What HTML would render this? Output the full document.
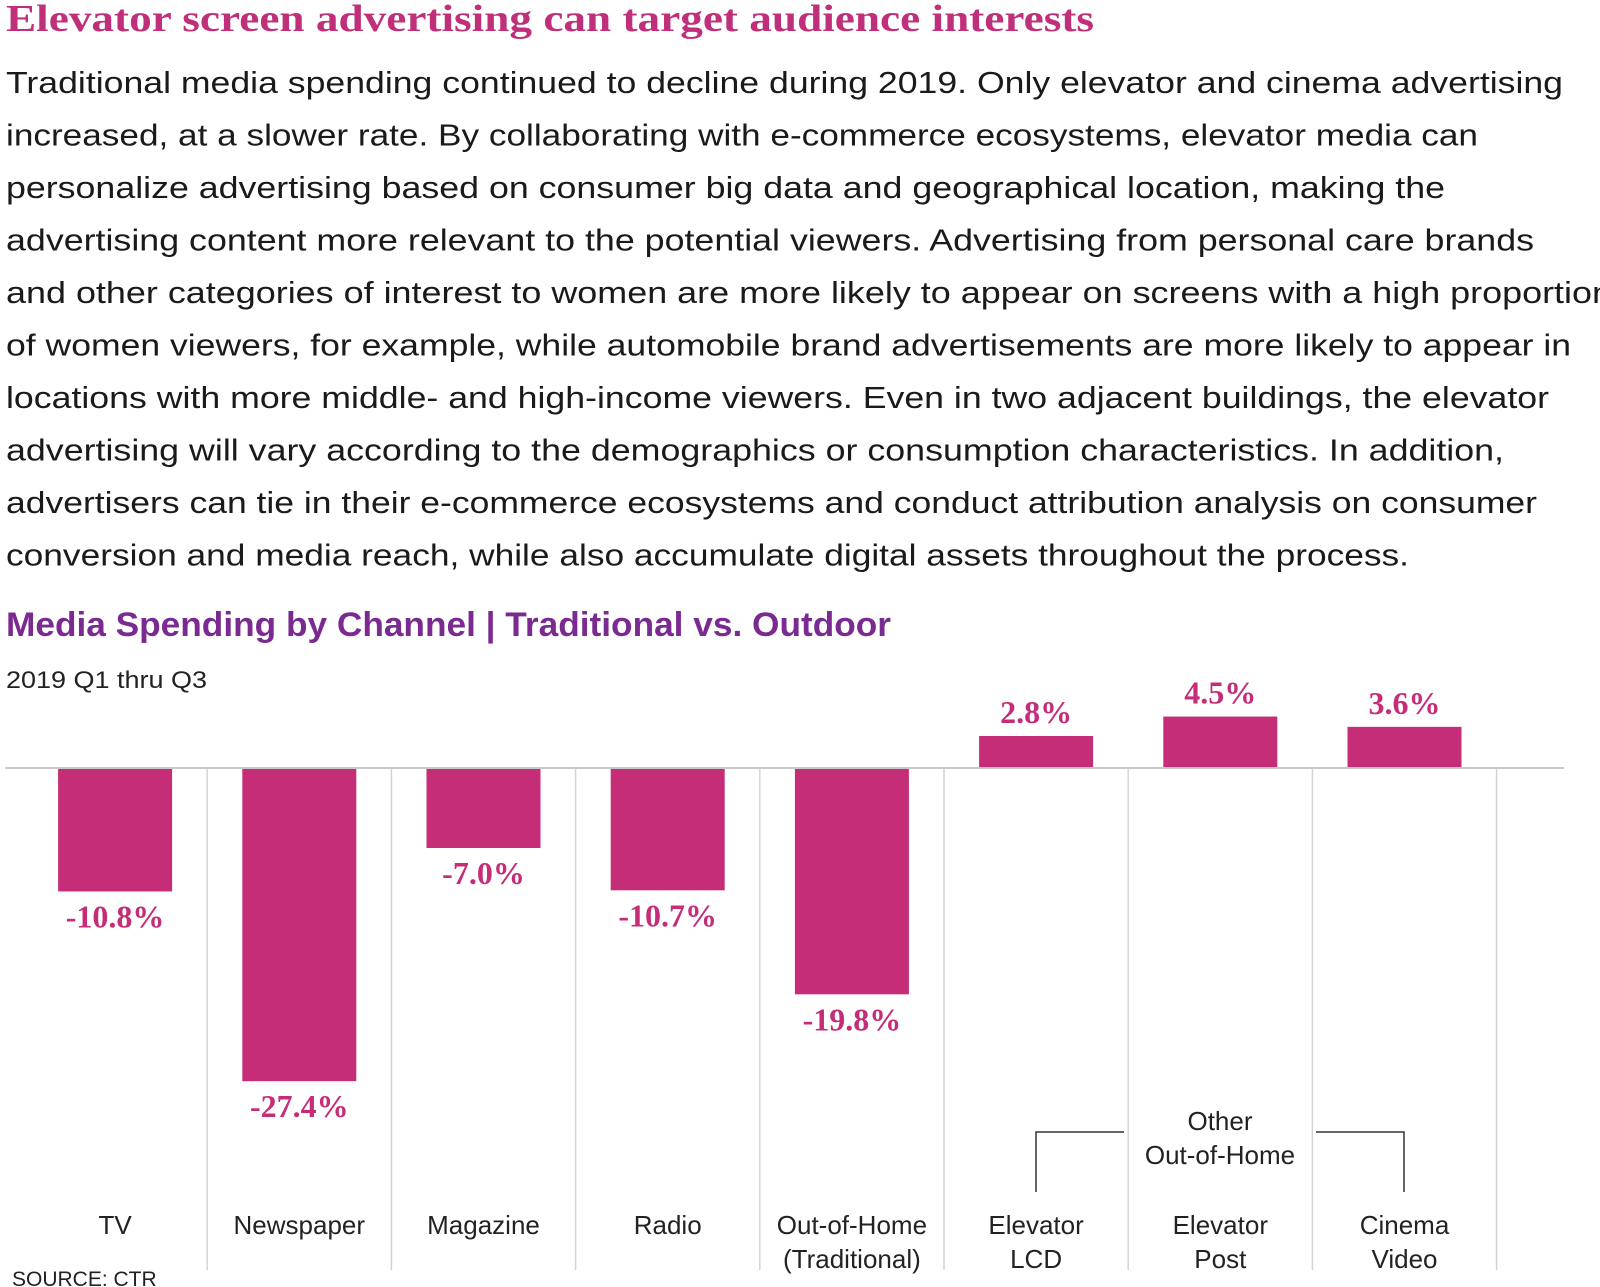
<!DOCTYPE html>
<html><head><meta charset="utf-8">
<style>
html,body{margin:0;padding:0;background:#fff;}
svg{display:block;}
.body{font-family:"Liberation Sans",sans-serif;font-size:31px;fill:#1a1a1a;}
.cat{font-family:"Liberation Sans",sans-serif;font-size:26px;fill:#222;text-anchor:middle;}
.val{font-family:"Liberation Serif",serif;font-weight:bold;font-size:32px;fill:#c52d78;text-anchor:middle;}
</style></head>
<body>
<svg id="chart" width="1600" height="1287" viewBox="0 0 1600 1287" xmlns="http://www.w3.org/2000/svg">
<text x="6" y="31" font-family="Liberation Serif,serif" font-weight="bold" font-size="38" fill="#c0307a" textLength="1088" lengthAdjust="spacingAndGlyphs">Elevator screen advertising can target audience interests</text>
<g id="para"></g>
<text x="6" y="636" font-family="Liberation Sans,sans-serif" font-weight="bold" font-size="34" fill="#7a2a90" textLength="885" lengthAdjust="spacingAndGlyphs">Media Spending by Channel | Traditional vs. Outdoor</text>
<text x="6" y="688" font-family="Liberation Sans,sans-serif" font-size="24" fill="#222" textLength="201" lengthAdjust="spacingAndGlyphs">2019 Q1 thru Q3</text>
<g id="grid"></g>
<g id="bars"></g>
<path d="M1036 1192 V1132 H1124 M1316 1132 H1404 V1192" fill="none" stroke="#333" stroke-width="1.5"/>
<text class="cat" x="1220" y="1130">Other</text>
<text class="cat" x="1220" y="1164">Out-of-Home</text>
<text x="12" y="1286" font-family="Liberation Sans,sans-serif" font-size="21" fill="#222">SOURCE: CTR</text>
</svg>
<script>
const categoriesLine1 = ["TV","Newspaper","Magazine","Radio","Out-of-Home","Elevator","Elevator","Cinema"];
const categoriesLine2 = ["","","","","(Traditional)","LCD","Post","Video"];
const values = [-10.8,-27.4,-7.0,-10.7,-19.8,2.8,4.5,3.6];
const valueLabels = ["-10.8%","-27.4%","-7.0%","-10.7%","-19.8%","2.8%","4.5%","3.6%"];

const paraLines = [
"Traditional media spending continued to decline during 2019. Only elevator and cinema advertising",
"increased, at a slower rate. By collaborating with e-commerce ecosystems, elevator media can",
"personalize advertising based on consumer big data and geographical location, making the",
"advertising content more relevant to the potential viewers. Advertising from personal care brands",
"and other categories of interest to women are more likely to appear on screens with a high proportion",
"of women viewers, for example, while automobile brand advertisements are more likely to appear in",
"locations with more middle- and high-income viewers. Even in two adjacent buildings, the elevator",
"advertising will vary according to the demographics or consumption characteristics. In addition,",
"advertisers can tie in their e-commerce ecosystems and conduct attribution analysis on consumer",
"conversion and media reach, while also accumulate digital assets throughout the process."
];
const NS="http://www.w3.org/2000/svg";
const lineEnds=[1563,1478,1445,1534,1612,1571,1549,1504,1537,1409];
const para=document.getElementById('para');
paraLines.forEach((t,i)=>{
  const el=document.createElementNS(NS,'text');
  el.setAttribute('class','body');
  el.setAttribute('x',6);
  el.setAttribute('y',93+i*52.5);
  el.setAttribute('textLength',lineEnds[i]-6);
  el.setAttribute('lengthAdjust','spacingAndGlyphs');
  el.textContent=t;
  
  
  para.appendChild(el);
});

const baseY=768, pxPer=11.43, colW=184.2, x0=23, barW=114;
const yScale=v=>baseY - v*pxPer;
const xCenter=i=>x0 + colW*i + colW/2;
const grid=document.getElementById('grid');
for(let i=1;i<=categoriesLine1.length;i++){
  const l=document.createElementNS(NS,'line');
  const x=x0+colW*i;
  l.setAttribute('x1',x);l.setAttribute('x2',x);
  l.setAttribute('y1',baseY);l.setAttribute('y2',1270);
  l.setAttribute('stroke','#d4d4d4');l.setAttribute('stroke-width','1.5');
  
  
  grid.appendChild(l);
}
const bars=document.getElementById('bars');
values.forEach((v,i)=>{
  const cx=xCenter(i);
  const r=document.createElementNS(NS,'rect');
  const y1=Math.min(yScale(v),baseY), y2=Math.max(yScale(v),baseY);
  r.setAttribute('x',cx-barW/2);r.setAttribute('width',barW);
  r.setAttribute('y',y1);r.setAttribute('height',y2-y1);
  r.setAttribute('fill','#c52d78');
  
  
  bars.appendChild(r);
  const t=document.createElementNS(NS,'text');
  t.setAttribute('class','val');
  t.setAttribute('x',cx);
  t.setAttribute('y',v<0? yScale(v)+36 : yScale(v)-13);
  t.textContent=valueLabels[i];
  
  
  bars.appendChild(t);
  const c1=document.createElementNS(NS,'text');
  c1.setAttribute('class','cat');c1.setAttribute('x',cx);c1.setAttribute('y',1234);
  c1.textContent=categoriesLine1[i];
  
  
  bars.appendChild(c1);
  if(categoriesLine2[i]){
    const c2=document.createElementNS(NS,'text');
    c2.setAttribute('class','cat');c2.setAttribute('x',cx);c2.setAttribute('y',1268);
    c2.textContent=categoriesLine2[i];
    
    
    bars.appendChild(c2);
  }
});
const base=document.createElementNS(NS,'line');
base.setAttribute('x1',5);base.setAttribute('x2',1564);
base.setAttribute('y1',baseY);base.setAttribute('y2',baseY);
base.setAttribute('stroke','#c8c8c8');base.setAttribute('stroke-width','2');


bars.appendChild(base);
</script>
</body></html>
